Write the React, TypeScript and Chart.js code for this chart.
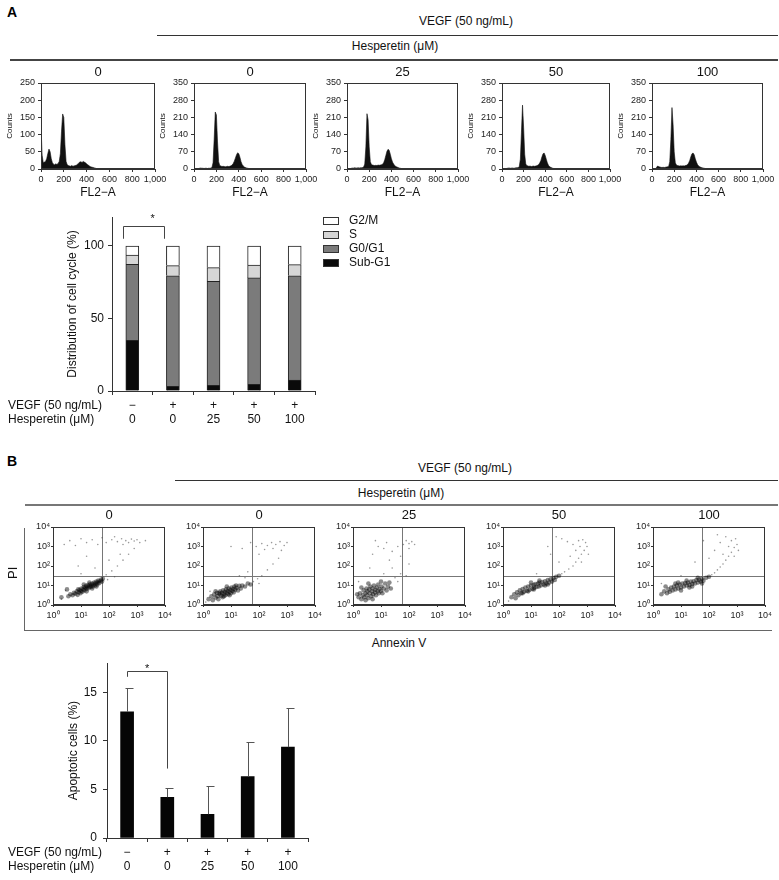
import React, { useEffect, useRef } from 'react';
import { Chart, registerables } from 'chart.js';
Chart.register(...registerables);

const FONT = '"Liberation Sans", Arial, Helvetica, sans-serif';
Chart.defaults.font.family = FONT;
Chart.defaults.color = '#111';

// ---------------- Panel A: DNA histograms (FL2-A) ----------------
const HIST_BINS = [0, 10, 20, 30, 40, 50, 60, 70, 80, 90, 100, 110, 120, 130, 140, 150, 160, 170, 180, 190, 200, 210, 220, 230, 240, 250, 260, 270, 280, 290, 300, 310, 320, 330, 340, 350, 360, 370, 380, 390, 400, 410, 420, 430, 440, 450, 460, 470, 480, 490, 500, 510, 520];
const HIST_CTRL = [125, 40, 18, 20, 22, 30, 45, 58, 50, 30, 18, 14, 12, 15, 13, 16, 22, 45, 110, 160, 150, 70, 22, 12, 10, 9, 8, 10, 8, 9, 10, 11, 14, 17, 20, 21, 19, 22, 20, 18, 15, 12, 10, 7, 6, 5, 4, 3, 2, 1, 1, 0, 0];
const HIST_V0 = [0, 0, 0, 0, 2, 3, 4, 3, 3, 2, 3, 3, 2, 3, 3, 4, 6, 25, 120, 232, 220, 110, 30, 14, 12, 10, 11, 10, 9, 10, 11, 10, 11, 13, 16, 22, 32, 45, 58, 66, 62, 48, 30, 18, 12, 8, 6, 4, 3, 2, 1, 1, 0];
const HIST_V25 = [0, 0, 0, 0, 3, 4, 4, 5, 4, 4, 5, 4, 5, 5, 6, 8, 20, 90, 225, 200, 90, 30, 18, 16, 15, 14, 15, 14, 16, 15, 16, 17, 19, 25, 38, 55, 72, 80, 76, 60, 42, 28, 20, 14, 10, 8, 6, 4, 3, 2, 1, 1, 0];
const HIST_V50 = [0, 0, 0, 0, 2, 3, 4, 4, 3, 4, 4, 3, 4, 5, 5, 6, 10, 40, 150, 260, 170, 60, 20, 14, 12, 11, 12, 10, 11, 12, 11, 12, 13, 15, 18, 25, 35, 50, 62, 65, 55, 40, 25, 15, 10, 7, 5, 3, 2, 2, 1, 1, 0];
const HIST_V100 = [0, 0, 0, 0, 6, 12, 10, 8, 7, 6, 7, 6, 7, 8, 9, 10, 30, 120, 250, 180, 70, 25, 16, 14, 13, 12, 13, 12, 13, 12, 14, 15, 18, 24, 35, 50, 62, 65, 58, 42, 28, 18, 12, 9, 7, 5, 4, 3, 2, 1, 1, 0, 0];
const HIST_SERIES = [HIST_CTRL, HIST_V0, HIST_V25, HIST_V50, HIST_V100];
const HIST_TITLES = ['0', '0', '25', '50', '100'];
const HIST_YMAX = [250, 350, 350, 350, 350];
const HIST_YSTEP = [50, 70, 70, 70, 70];

// ---------------- Panel A: cell-cycle distribution (%) ----------------
const GROUP_VEGF = ['\u2212', '+', '+', '+', '+'];
const GROUP_HESP = ['0', '0', '25', '50', '100'];
const SUB_G1 = [35.0, 3.2, 3.9, 4.6, 7.6];
const G0_G1 = [52.4, 76.2, 71.8, 73.4, 71.8];
const S_PHASE = [6.4, 7.1, 9.4, 8.9, 7.8];
const G2_M = [6.2, 13.5, 14.9, 13.1, 12.8];

// ---------------- Panel B: apoptotic cells (%) ----------------
const APOP_MEAN = [13.0, 4.2, 2.45, 6.33, 9.35];
const APOP_ERR = [2.45, 0.97, 2.95, 3.6, 4.05];

// ---------------- Panel B: Annexin V / PI dot plots (log10 units) ----------------
const SC_TITLES = ['0', '0', '25', '50', '100'];
const QUAD_X = 1.75;
const QUAD_Y = 1.48;
const DOTS_CTRL_DENSE = [[0.55,0.45],[0.62,0.55],[0.7,0.5],[0.75,0.62],[0.8,0.58],[0.85,0.7],[0.88,0.52],[0.92,0.66],[0.95,0.78],[0.98,0.6],[1.0,0.72],[1.02,0.85],[1.05,0.68],[1.08,0.8],[1.1,0.92],[1.12,0.75],[1.15,0.88],[1.18,0.98],[1.2,0.82],[1.22,0.92],[1.25,1.02],[1.27,0.86],[1.3,0.96],[1.32,1.06],[1.35,0.92],[1.37,1.0],[1.4,1.1],[1.42,0.95],[1.45,1.05],[1.47,1.15],[1.5,1.0],[1.52,1.1],[1.55,1.2],[1.58,1.05],[1.6,1.15],[1.62,1.25],[1.65,1.12],[1.68,1.22],[1.72,1.3],[1.75,1.2],[1.78,1.35],[1.2,0.7],[1.4,0.85],[0.9,0.8],[1.3,1.15],[1.55,0.95],[1.1,1.05],[0.3,0.4],[0.5,0.8]];
const DOTS_CTRL_SPARSE = [[0.4,3.1],[0.6,3.3],[0.8,3.05],[1.0,3.4],[1.2,3.2],[1.4,3.35],[1.6,3.1],[1.75,3.45],[1.9,3.2],[2.1,3.35],[2.3,3.25],[2.45,3.4],[2.6,3.3],[2.7,3.2],[2.8,3.38],[2.9,3.28],[3.0,3.35],[3.1,3.2],[3.3,3.3],[2.5,3.1],[2.2,3.5],[1.9,1.55],[2.1,1.75],[2.3,2.0],[2.5,2.3],[2.7,2.6],[2.9,2.9],[2.0,2.3],[2.4,2.6],[1.5,1.9],[1.2,2.5],[0.9,2.0],[0.3,0.3],[0.45,0.75],[1.95,1.3],[2.2,1.45],[1.0,1.6]];
const DOTS_V0_DENSE = [[0.2,0.3],[0.3,0.45],[0.35,0.25],[0.4,0.55],[0.45,0.38],[0.5,0.62],[0.52,0.45],[0.55,0.3],[0.6,0.55],[0.62,0.7],[0.65,0.48],[0.68,0.62],[0.7,0.4],[0.72,0.75],[0.75,0.58],[0.78,0.68],[0.8,0.5],[0.82,0.8],[0.85,0.62],[0.88,0.72],[0.9,0.55],[0.92,0.85],[0.95,0.68],[0.98,0.78],[1.0,0.6],[1.02,0.9],[1.05,0.72],[1.08,0.82],[1.1,0.65],[1.12,0.95],[1.15,0.78],[1.2,0.88],[1.25,0.75],[1.3,0.98],[1.35,0.85],[1.4,1.0],[1.5,0.95],[1.6,1.1],[1.7,1.05],[0.58,0.62],[0.75,0.45],[0.95,0.5],[1.18,1.0],[0.45,0.7],[0.85,0.95]];
const DOTS_V0_SPARSE = [[1.9,3.0],[2.1,3.15],[2.3,3.05],[2.45,3.2],[2.6,3.1],[2.75,3.25],[2.9,3.05],[3.0,3.2],[2.5,2.9],[2.2,2.85],[1.7,3.2],[1.4,2.9],[2.8,2.8],[2.0,2.6],[1.0,3.0],[1.8,1.2],[1.95,1.35],[2.1,1.5],[2.3,1.8],[2.5,2.1],[2.7,2.4],[1.5,1.4],[1.3,1.5],[1.6,1.7],[2.0,1.1],[0.1,0.15],[0.25,0.7]];
const DOTS_V25_DENSE = [[0.2,0.4],[0.25,0.6],[0.3,0.3],[0.35,0.5],[0.38,0.75],[0.4,0.4],[0.45,0.6],[0.48,0.85],[0.5,0.5],[0.52,0.7],[0.55,0.35],[0.58,0.8],[0.6,0.6],[0.62,0.95],[0.65,0.45],[0.68,0.7],[0.7,0.85],[0.72,0.55],[0.75,1.0],[0.78,0.65],[0.8,0.78],[0.82,0.5],[0.85,0.9],[0.88,0.7],[0.9,1.05],[0.92,0.6],[0.95,0.82],[1.0,0.72],[1.02,0.95],[1.05,0.6],[1.1,0.85],[1.15,1.1],[1.2,0.75],[1.25,0.95],[1.3,1.15],[1.35,0.85],[0.3,0.9],[0.55,1.1],[0.45,0.25],[0.7,0.3],[1.0,1.2],[0.15,0.55]];
const DOTS_V25_SPARSE = [[0.7,2.6],[0.9,3.0],[1.1,2.9],[1.2,3.2],[1.4,2.75],[1.6,3.0],[1.8,3.1],[1.9,3.3],[2.0,3.15],[2.1,3.25],[2.2,3.1],[2.0,2.9],[1.7,2.5],[1.3,2.3],[0.8,3.3],[1.5,1.4],[1.7,1.6],[1.6,1.2],[1.9,1.5],[1.1,1.6],[0.6,1.9],[1.4,1.9],[2.0,2.1],[0.2,1.2]];
const DOTS_V50_DENSE = [[0.3,0.4],[0.4,0.55],[0.45,0.35],[0.5,0.65],[0.55,0.5],[0.6,0.75],[0.65,0.6],[0.7,0.82],[0.75,0.68],[0.8,0.9],[0.85,0.72],[0.9,0.95],[0.95,0.78],[1.0,1.0],[1.05,0.82],[1.1,1.02],[1.12,0.88],[1.15,1.08],[1.2,0.92],[1.25,1.1],[1.28,0.95],[1.3,1.15],[1.35,1.0],[1.4,1.18],[1.45,1.05],[1.5,1.22],[1.55,1.1],[1.6,1.28],[1.65,1.15],[1.7,1.32],[1.75,1.2],[1.8,1.38],[1.85,1.28],[1.9,1.45],[2.0,1.5],[0.9,0.7],[1.1,0.8],[1.3,1.25],[1.5,1.0],[0.7,0.6],[1.0,1.15],[1.6,1.05]];
const DOTS_V50_SPARSE = [[2.1,1.6],[2.2,1.7],[2.35,1.85],[2.5,2.0],[2.6,2.2],[2.7,2.4],[2.8,2.6],[2.9,2.8],[3.0,3.0],[2.95,3.2],[2.85,3.35],[2.7,3.3],[2.5,3.1],[2.3,3.25],[2.1,3.4],[1.9,3.5],[2.6,2.8],[2.8,2.2],[2.4,2.5],[2.0,2.2],[1.7,2.6],[1.6,3.0],[2.75,3.0],[3.05,2.6],[0.2,0.2],[1.2,1.6]];
const DOTS_V100_DENSE = [[0.3,0.55],[0.4,0.7],[0.5,0.6],[0.55,0.8],[0.6,0.68],[0.65,0.9],[0.7,0.75],[0.75,0.95],[0.8,0.8],[0.85,1.0],[0.9,0.85],[0.95,1.05],[1.0,0.9],[1.05,1.1],[1.1,0.95],[1.15,1.12],[1.2,1.0],[1.25,1.15],[1.3,1.02],[1.35,1.2],[1.4,1.08],[1.45,1.22],[1.5,1.1],[1.55,1.28],[1.6,1.15],[1.65,1.3],[1.7,1.2],[1.75,1.35],[1.8,1.25],[1.9,1.4],[2.0,1.45],[0.8,1.1],[1.0,0.75],[1.2,1.25],[1.4,0.95],[1.6,1.4],[0.9,1.15],[1.3,0.9],[0.45,0.95],[1.75,1.1]];
const DOTS_V100_SPARSE = [[2.1,1.55],[2.2,1.65],[2.3,1.8],[2.4,1.95],[2.5,2.1],[2.6,2.3],[2.7,2.5],[2.8,2.7],[2.9,2.95],[3.0,3.1],[2.95,3.4],[2.8,3.3],[2.6,3.5],[2.4,3.2],[2.2,2.8],[2.0,2.4],[2.5,2.6],[2.7,3.0],[2.9,2.5],[3.05,2.8],[1.8,3.3],[1.5,2.2],[2.3,3.6],[0.3,1.1],[1.0,1.5]];
const DOTS_DENSE = [DOTS_CTRL_DENSE, DOTS_V0_DENSE, DOTS_V25_DENSE, DOTS_V50_DENSE, DOTS_V100_DENSE];
const DOTS_SPARSE = [DOTS_CTRL_SPARSE, DOTS_V0_SPARSE, DOTS_V25_SPARSE, DOTS_V50_SPARSE, DOTS_V100_SPARSE];
const SUP = ['\u2070', '\u00B9', '\u00B2', '\u00B3', '\u2074'];

// ---------------- layout (pixels) ----------------
const HIST_LEFT = [41, 194, 347, 502, 652];
const HIST_W = [114, 112, 111, 108, 111];
const SC_LEFT = [53, 203, 353, 503, 653];

type Box = { left: number; top: number; width: number; height: number };
type Plot = { l: number; t: number; r: number; b: number };

function frame(box: Box, plot: Plot) {
  return {
    padding: { left: 0, top: plot.t - box.top, right: box.left + box.width - plot.r, bottom: 0 },
    yW: plot.l - box.left,
    xH: box.top + box.height - plot.b,
  };
}

function ChartBox({ box, build }: { box: Box; build: () => any }) {
  const ref = useRef<HTMLCanvasElement>(null);
  useEffect(() => {
    const c = new Chart(ref.current as HTMLCanvasElement, build());
    return () => c.destroy();
  }, []);
  return (
    <canvas
      ref={ref}
      width={box.width}
      height={box.height}
      style={{ position: 'absolute', left: box.left, top: box.top, width: box.width, height: box.height }}
    />
  );
}

const boxPlugin = {
  id: 'decor',
  beforeDatasetsDraw(chart: any, _a: any, o: any) {
    if (!o || !o.quad) return;
    const { ctx } = chart;
    const xs = chart.scales.x, ys = chart.scales.y;
    const a = chart.chartArea;
    ctx.save();
    ctx.strokeStyle = '#777';
    ctx.lineWidth = 1;
    const qx = Math.round(xs.getPixelForValue(o.quad[0])) + 0.5;
    const qy = Math.round(ys.getPixelForValue(o.quad[1])) + 0.5;
    ctx.beginPath();
    ctx.moveTo(qx, a.top); ctx.lineTo(qx, a.bottom);
    ctx.moveTo(a.left, qy); ctx.lineTo(a.right, qy);
    ctx.stroke();
    ctx.restore();
  },
  afterDraw(chart: any, _a: any, o: any) {
    if (!o) return;
    const { ctx } = chart;
    const a = chart.chartArea;
    ctx.save();
    if (o.border) {
      ctx.strokeStyle = '#333';
      ctx.lineWidth = 1;
      ctx.strokeRect(Math.round(a.left) + 0.5, Math.round(a.top) + 0.5, Math.round(a.right - a.left) - 1, Math.round(a.bottom - a.top) - 1);
    }
    if (o.title) {
      ctx.fillStyle = '#111';
      ctx.font = `13px ${FONT}`;
      ctx.textAlign = 'center';
      ctx.textBaseline = 'middle';
      ctx.fillText(o.title, (a.left + a.right) / 2, a.top + o.titleDy);
    }
    if (o.rows) {
      ctx.fillStyle = '#111';
      ctx.font = `12px ${FONT}`;
      ctx.textAlign = 'left';
      ctx.textBaseline = 'middle';
      o.rows.forEach((r: string, i: number) => ctx.fillText(r, 8, a.bottom + 14.2 + i * 14.4));
    }
    if (o.sig) {
      const s = o.sig;
      const xs = chart.scales.x, ys = chart.scales.y;
      const c1 = xs.getPixelForValue(s.from), c2 = xs.getPixelForValue(s.to);
      const x1 = Math.round(c1 + s.dx) + 0.5, x2 = Math.round(c2 + s.dx) + 0.5;
      const yt = Math.round(ys.getPixelForValue(s.top)) + 0.5;
      ctx.strokeStyle = '#444';
      ctx.lineWidth = 1;
      ctx.beginPath();
      ctx.moveTo(x1, ys.getPixelForValue(s.leftEnd));
      ctx.lineTo(x1, yt);
      ctx.lineTo(x2, yt);
      ctx.lineTo(x2, ys.getPixelForValue(s.rightEnd));
      ctx.stroke();
      ctx.fillStyle = '#111';
      ctx.font = `11px ${FONT}`;
      ctx.textAlign = 'center';
      ctx.textBaseline = 'middle';
      ctx.fillText('*', (c1 + c2) / 2, ys.getPixelForValue(s.star) + 3);
    }
    if (o.errors) {
      const xs = chart.scales.x, ys = chart.scales.y;
      ctx.strokeStyle = '#555';
      ctx.lineWidth = 1;
      o.errors.mean.forEach((m: number, i: number) => {
        const cx = Math.round(xs.getPixelForValue(i)) + 0.5;
        const yb = ys.getPixelForValue(m);
        const yt = Math.round(ys.getPixelForValue(m + o.errors.err[i])) + 0.5;
        ctx.beginPath();
        ctx.moveTo(cx, yb); ctx.lineTo(cx, yt);
        ctx.moveTo(cx - 2, yt); ctx.lineTo(cx + 6, yt);
        ctx.stroke();
      });
    }
    if (o.legend) {
      const ds = chart.data.datasets;
      ctx.font = `12px ${FONT}`;
      ctx.textAlign = 'left';
      ctx.textBaseline = 'middle';
      const order = [3, 2, 1, 0];
      order.forEach((di, row) => {
        const y = a.top + 3.5 + row * 14;
        const bx = a.right + 8;
        ctx.fillStyle = ds[di].backgroundColor;
        ctx.fillRect(bx, y - 3.5, 16, 8);
        ctx.strokeStyle = '#333';
        ctx.strokeRect(bx + 0.5, Math.round(y - 3.5) + 0.5, 15, 7);
        ctx.fillStyle = '#111';
        ctx.fillText(ds[di].label, bx + 26, y + 0.5);
      });
    }
    ctx.restore();
  },
};

function histConfig(i: number) {
  const px = HIST_LEFT[i];
  const box: Box = { left: px - 40, top: 62, width: 40 + HIST_W[i] + 16, height: 138 };
  const f = frame(box, { l: px, t: 83, r: px + HIST_W[i], b: 169 });
  const pts = HIST_BINS.map((b, k) => ({ x: b, y: HIST_SERIES[i][k] }));
  return {
    box,
    build: () => ({
      type: 'line',
      data: {
        datasets: [{
          data: pts,
          fill: 'origin',
          backgroundColor: '#111',
          borderColor: '#111',
          borderWidth: 0.6,
          pointRadius: 0,
          tension: 0,
        }],
      },
      options: {
        responsive: false,
        animation: false,
        layout: { padding: f.padding },
        plugins: { legend: { display: false }, tooltip: { enabled: false }, decor: { border: true, title: HIST_TITLES[i], titleDy: -11 } },
        scales: {
          x: {
            type: 'linear', min: 0, max: 1000,
            afterFit: (s: any) => { s.height = f.xH; },
            ticks: { stepSize: 200, autoSkip: false, maxRotation: 0, padding: 2, font: { size: 9 }, color: '#222', callback: (v: number) => v.toLocaleString('en-US') },
            grid: { drawOnChartArea: false, drawTicks: true, tickLength: 3, color: '#333' },
            border: { display: true, color: '#333' },
            title: { display: true, text: 'FL2\u2212A', font: { size: 12 }, padding: { top: 0, bottom: 0 }, color: '#111' },
          },
          y: {
            min: 0, max: HIST_YMAX[i],
            afterFit: (s: any) => { s.width = f.yW; },
            ticks: { stepSize: HIST_YSTEP[i], padding: 3, font: { size: 9 }, color: '#222' },
            grid: { drawOnChartArea: false, drawTicks: true, tickLength: 3, color: '#333' },
            border: { display: true, color: '#333' },
            title: { display: true, text: 'Counts', font: { size: 8 }, padding: { top: 4, bottom: 0 }, color: '#111' },
          },
        },
      },
      plugins: [boxPlugin],
    }),
  };
}

function cycleConfig() {
  const box: Box = { left: 0, top: 200, width: 440, height: 230 };
  const f = frame(box, { l: 112, t: 217, r: 315, b: 391 });
  const labels = GROUP_VEGF.map((v, k) => [v, GROUP_HESP[k]]);
  const mk = (label: string, data: number[], color: string) => ({
    label, data, backgroundColor: color, borderColor: '#222', borderWidth: 1, barThickness: 13, stack: 'c',
  });
  return {
    box,
    build: () => ({
      type: 'bar',
      data: {
        labels,
        datasets: [
          mk('Sub-G1', SUB_G1, '#0a0a0a'),
          mk('G0/G1', G0_G1, '#7b7b7b'),
          mk('S', S_PHASE, '#d6d6d6'),
          mk('G2/M', G2_M, '#ffffff'),
        ],
      },
      options: {
        responsive: false,
        animation: false,
        layout: { padding: f.padding },
        plugins: {
          legend: { display: false }, tooltip: { enabled: false },
          decor: {
            rows: ['VEGF (50 ng/mL)', 'Hesperetin (\u03bcM)'],
            legend: true,
            sig: { from: 0, to: 1, dx: -9, top: 113.5, leftEnd: 105, rightEnd: 105, star: 120.5 },
          },
        },
        scales: {
          x: {
            stacked: true,
            afterFit: (s: any) => { s.height = f.xH; },
            ticks: { padding: 3, font: { size: 12 }, color: '#111', autoSkip: false, maxRotation: 0 },
            grid: { offset: true, drawOnChartArea: false, drawTicks: true, tickLength: 4, color: '#333' },
            border: { display: true, color: '#333' },
          },
          y: {
            stacked: true, min: 0, max: 120,
            afterFit: (s: any) => { s.width = f.yW; },
            ticks: { stepSize: 50, includeBounds: false, padding: 4, font: { size: 12 }, color: '#111' },
            grid: { drawOnChartArea: false, drawTicks: true, tickLength: 4, color: '#333' },
            border: { display: true, color: '#333' },
            title: { display: true, text: 'Distribution of cell cycle (%)', font: { size: 12 }, padding: { top: 65, bottom: 0 }, color: '#111' },
          },
        },
      },
      plugins: [boxPlugin],
    }),
  };
}

function apopConfig() {
  const box: Box = { left: 0, top: 650, width: 330, height: 230 };
  const f = frame(box, { l: 107, t: 663, r: 308, b: 838 });
  const labels = GROUP_VEGF.map((v, k) => [v, GROUP_HESP[k]]);
  return {
    box,
    build: () => ({
      type: 'bar',
      data: {
        labels,
        datasets: [{ label: 'Apoptotic cells', data: APOP_MEAN, backgroundColor: '#050505', borderWidth: 0, barThickness: 13 }],
      },
      options: {
        responsive: false,
        animation: false,
        layout: { padding: f.padding },
        plugins: {
          legend: { display: false }, tooltip: { enabled: false },
          decor: {
            rows: ['VEGF (50 ng/mL)', 'Hesperetin (\u03bcM)'],
            errors: { mean: APOP_MEAN, err: APOP_ERR },
            sig: { from: 0, to: 1, dx: 0, top: 17.2, leftEnd: 16.6, rightEnd: 7.15, star: 17.75 },
          },
        },
        scales: {
          x: {
            afterFit: (s: any) => { s.height = f.xH; },
            ticks: { padding: 3, font: { size: 12 }, color: '#111', autoSkip: false, maxRotation: 0 },
            grid: { offset: true, drawOnChartArea: false, drawTicks: true, tickLength: 4, color: '#333' },
            border: { display: true, color: '#333' },
          },
          y: {
            min: 0, max: 18,
            afterFit: (s: any) => { s.width = f.yW; },
            ticks: { stepSize: 5, includeBounds: false, padding: 6, font: { size: 12 }, color: '#111' },
            grid: { drawOnChartArea: false, drawTicks: true, tickLength: 4, color: '#333' },
            border: { display: true, color: '#333' },
            title: { display: true, text: 'Apoptotic cells (%)', font: { size: 12 }, padding: { top: 66, bottom: 0 }, color: '#111' },
          },
        },
      },
      plugins: [boxPlugin],
    }),
  };
}

function dotConfig(i: number) {
  const px = SC_LEFT[i];
  const box: Box = { left: px - 32, top: 506, width: 32 + 112 + 14, height: 119 };
  const f = frame(box, { l: px, t: 527, r: px + 112, b: 605 });
  const toPts = (arr: number[][]) => arr.map((p) => ({ x: p[0], y: p[1] }));
  const axis = (isX: boolean) => ({
    min: 0, max: 4,
    afterFit: isX ? (s: any) => { s.height = f.xH; } : (s: any) => { s.width = f.yW; },
    ticks: { stepSize: 1, autoSkip: false, maxRotation: 0, padding: isX ? 3 : 1, font: { size: 9 }, color: '#222', callback: (v: number) => '10' + SUP[v] },
    grid: { drawOnChartArea: false, drawTicks: true, tickLength: 2, color: '#333' },
    border: { display: true, color: '#333' },
  });
  return {
    box,
    build: () => ({
      type: 'scatter',
      data: {
        datasets: [
          { data: toPts(DOTS_DENSE[i]), pointRadius: 2.3, pointBackgroundColor: 'rgba(0,0,0,0.45)', pointBorderWidth: 0 },
          { data: toPts(DOTS_SPARSE[i]), pointRadius: 0.8, pointBackgroundColor: 'rgba(70,70,70,0.55)', pointBorderWidth: 0 },
        ],
      },
      options: {
        responsive: false,
        animation: false,
        layout: { padding: f.padding },
        plugins: { legend: { display: false }, tooltip: { enabled: false }, decor: { border: true, title: SC_TITLES[i], titleDy: -12, quad: [QUAD_X, QUAD_Y] } },
        scales: { x: axis(true), y: axis(false) },
      },
      plugins: [boxPlugin],
    }),
  };
}

function Txt({ text, cx, cy, size = 12, bold = false, rotate = false }: { text: string; cx: number; cy: number; size?: number; bold?: boolean; rotate?: boolean }) {
  return (
    <div
      style={{
        position: 'absolute', left: cx - 150, top: cy - size * 0.6, width: 300, height: size * 1.2,
        lineHeight: `${size * 1.2}px`, fontSize: size, fontFamily: FONT, fontWeight: bold ? 'bold' : 'normal',
        textAlign: 'center', color: '#111', whiteSpace: 'nowrap',
        transform: rotate ? 'rotate(-90deg)' : undefined,
      }}
    >
      {text}
    </div>
  );
}

function Rule({ x1, x2, y, w = 1, color = '#333' }: { x1: number; x2: number; y: number; w?: number; color?: string }) {
  return <div style={{ position: 'absolute', left: x1, top: y, width: x2 - x1, height: w, background: color }} />;
}

export default function App() {
  const hists = [0, 1, 2, 3, 4].map(histConfig);
  const dots = [0, 1, 2, 3, 4].map(dotConfig);
  const cyc = cycleConfig();
  const apo = apopConfig();
  return (
    <div style={{ position: 'absolute', left: 0, top: 0, width: 779, height: 880, background: '#fff', overflow: 'hidden', fontFamily: FONT }}>
      <div style={{ position: 'absolute', left: 7, top: 4, fontSize: 14, fontWeight: 'bold', fontFamily: FONT }}>A</div>
      <Txt text="VEGF (50 ng/mL)" cx={466} cy={21} />
      <Rule x1={157} x2={778} y={35} />
      <Txt text={'Hesperetin (\u03bcM)'} cx={395} cy={46} />
      <Rule x1={10} x2={778} y={59} w={2} color="#444" />
      {hists.map((h, k) => <ChartBox key={'h' + k} box={h.box} build={h.build} />)}
      <ChartBox box={cyc.box} build={cyc.build} />

      <div style={{ position: 'absolute', left: 7, top: 453, fontSize: 14, fontWeight: 'bold', fontFamily: FONT }}>B</div>
      <Txt text="VEGF (50 ng/mL)" cx={465} cy={468} />
      <Rule x1={175} x2={778} y={480} />
      <Txt text={'Hesperetin (\u03bcM)'} cx={401} cy={493} />
      <Rule x1={25} x2={778} y={504} w={2} color="#777" />
      {dots.map((d, k) => <ChartBox key={'d' + k} box={d.box} build={d.build} />)}
      <div style={{ position: 'absolute', left: 24, top: 528, width: 1, height: 102, background: '#666' }} />
      <Rule x1={24} x2={772} y={630} color="#666" />
      <Txt text="PI" cx={13} cy={573} size={13} rotate />
      <Txt text="Annexin V" cx={399} cy={643} />
      <ChartBox box={apo.box} build={apo.build} />
    </div>
  );
}
